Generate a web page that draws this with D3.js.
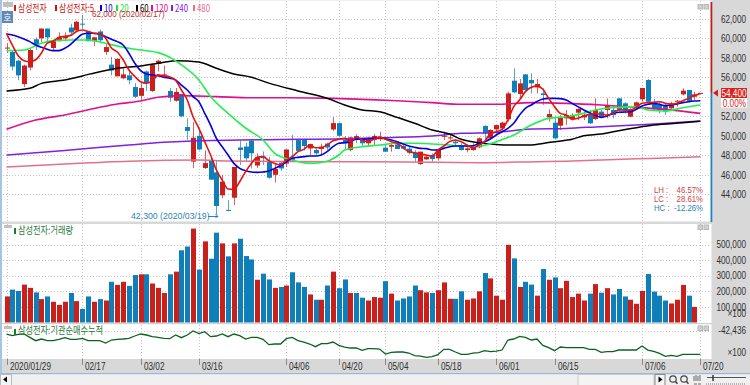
<!DOCTYPE html>
<html><head><meta charset="utf-8">
<script src="https://cdn.jsdelivr.net/npm/d3@7"></script>
<style>html,body{margin:0;padding:0;background:#f0f0f0;overflow:hidden}svg{display:block}text{font-family:"Liberation Sans","Noto Sans CJK KR",sans-serif}</style>
</head><body><svg id="c" width="750" height="385"></svg>
<script>
const opens=[59000,58600,57700,55300,57000,59900,60000,61000,59000,59700,60000,61100,60800,61500,60700,59700,60700,58600,57300,56100,55900,56200,55000,54100,56600,54600,57400,56200,54600,53600,54300,50900,47350,50000,46700,47500,46250,43900,42400,43650,48800,48900,49500,46950,47850,47350,46000,47250,47150,47700,49560,49600,48700,48550,48650,49200,50650,51300,49570,48540,49980,49570,49230,49570,49640,48780,48880,49120,48950,48680,48270,47110,47580,48030,47690,49940,49770,49400,49050,48540,48540,48820,51000,49740,50660,50760,51690,55650,54290,56300,55720,54970,54350,51890,51350,51040,51790,51720,52370,51890,52130,51720,52480,52650,52650,53840,53330,51960,52820,53740,55720,53430,53160,53160,52820,53500,54250,54700,54010,54400];
const closes=[59050,57100,56200,57200,58800,59300,61000,60100,59700,60100,60200,60600,61700,61400,59700,60100,59800,59100,56700,57900,56300,55700,54000,54900,55400,57300,57700,56300,53900,54500,52000,50500,49800,48600,47200,45500,42800,45300,42350,46800,48550,47700,48200,47800,47700,45700,46600,46650,48600,47450,48450,48950,49150,48200,48900,48800,51300,50000,49220,49840,49570,49230,49570,49980,49840,48370,49050,48650,48680,48270,47720,48370,47860,47620,48610,50000,49840,49230,48540,48710,48880,49740,50250,50600,51100,51350,54350,54460,55380,54700,55380,55310,54180,52230,49740,51890,52130,52130,52750,52130,51280,52650,51960,53160,52130,52650,52570,52710,53430,54900,53500,52710,52650,52480,53330,53600,54630,53500,54250,54400];
const highs=[59500,58800,57800,57300,58900,60100,61000,61000,59800,60600,60600,61500,61800,62400,60700,60100,60900,59500,58100,57900,56900,56800,55400,55400,56700,57400,57800,57200,54900,54900,54300,51800,51400,50600,48500,47700,47500,46000,43400,46800,49500,49300,49600,48200,48400,47850,47200,47300,48600,50100,49600,49700,49200,48700,49200,49300,51900,51350,49980,49900,50180,49740,49910,50180,50420,49120,49230,49400,49160,48950,48540,48370,48030,48200,48610,50420,50080,49640,49230,49050,49230,49840,51100,50660,51100,51450,54520,56920,55825,56300,56400,55825,54870,52710,51790,52130,52650,52300,52820,52480,52650,53840,52650,53840,52990,53840,53430,52820,53500,54900,55825,53770,53430,53330,53500,53670,54870,54700,54520,54400];
const lows=[58500,56700,55700,55000,56700,58800,59600,59700,58800,59700,59700,60300,60800,61000,59700,59200,59500,58300,56200,56100,55800,55300,53900,53600,54600,54500,56600,55900,53500,53500,51900,49600,46700,48500,46600,45500,41900,43600,42300,42900,47000,47350,46650,46700,47000,45600,45200,46400,46800,47300,48350,48500,48000,48000,48000,48550,50500,49850,48540,48400,49230,48880,48880,49050,49460,48370,48370,48650,48610,48100,47340,47000,47520,47340,47520,49570,49570,48950,48470,48300,48470,48710,49670,49670,50420,50530,51450,54350,53840,54630,54350,54350,53160,51450,49640,50600,51100,51550,51620,51620,51210,51620,51890,51790,51790,52480,52300,51890,52650,53500,53400,52650,52300,52130,52650,52990,54120,53430,53670,54400];
const volumes=[167,211,202,243,222,193,150,167,133,113,133,189,137,87,167,133,150,141,261,241,261,235,304,309,309,250,222,189,309,326,463,487,602,339,520,409,576,507,424,507,537,426,404,274,313,276,222,228,237,322,257,228,180,146,146,237,326,220,276,189,189,159,141,163,159,265,185,141,154,167,237,207,193,189,207,257,152,152,200,146,154,200,317,283,172,146,498,411,228,261,243,172,343,274,289,220,267,163,185,141,185,246,191,220,180,215,167,146,120,202,311,198,172,141,122,146,241,172,100,0];
const flow=[-43000,-43250,-43050,-43000,-43500,-44000,-43750,-44000,-44000,-43800,-43550,-43800,-43800,-43650,-44000,-44000,-44000,-44350,-43900,-43800,-43750,-43650,-43300,-43000,-43150,-43400,-43500,-43650,-43700,-43150,-43550,-43150,-42550,-42950,-42650,-43400,-43300,-43000,-43400,-43000,-43250,-43750,-43500,-43500,-43800,-44600,-44500,-44500,-43700,-43500,-44000,-44200,-44500,-44900,-44450,-44450,-44200,-44700,-44950,-45100,-45100,-45450,-45200,-45200,-45250,-46000,-45750,-45700,-45700,-45850,-46250,-46300,-46500,-46400,-46100,-45300,-45300,-45700,-46050,-46050,-45850,-45800,-45500,-45650,-45550,-45400,-43900,-43750,-43350,-43500,-43900,-43750,-44700,-45050,-45500,-44950,-45050,-45050,-45050,-45050,-45300,-45300,-45750,-45650,-45650,-45400,-45400,-45400,-45400,-44800,-45400,-45600,-45900,-46350,-46200,-46350,-46050,-46050,-46050,-46050];
const ma5=[60500,59300,58200,57700,57600,57800,58500,59500,59700,60100,60200,60300,60700,60850,60700,60500,60450,60000,59000,58600,57800,56750,56100,55550,55400,55600,56250,56150,56050,55700,54700,53670,51960,50760,49400,48030,46490,45460,44540,44510,45290,46320,47170,47790,47860,47450,47170,47000,47510,47860,48370,48610,49060,48780,48780,49060,49500,49640,49740,49400,49910,49570,49400,49640,49840,49640,49400,49230,48820,48370,48270,48130,48030,47920,48540,48950,49400,49570,49400,49050,48710,49050,49400,50250,50420,50660,51620,52990,53670,54530,54970,55100,54770,53840,52990,52300,52130,51690,51790,52030,52200,52240,52240,52130,52300,52650,52650,52650,52920,53330,53400,53430,53500,53330,53230,53330,53600,53840,54120,54350];
const ma10=[60445,60342,60171,59932,59658,59316,59077,58872,58735,58735,58975,59385,59932,60410,60513,60513,60445,60171,59898,59658,59316,58462,57436,56684,56342,56239,56171,56000,55900,55726,55200,54700,54020,53500,52300,51100,49740,48880,48030,47170,46660,46420,46290,46250,46290,46390,46660,46930,47340,47690,47790,47860,47930,47930,48030,48370,48880,49230,49300,49400,49640,49640,49670,49740,49840,49700,49570,49400,49160,48950,48820,48710,48680,48540,48540,48710,48880,48950,48950,48950,48980,49230,49400,49670,50080,50420,50760,51280,52130,52820,53160,53530,53770,53840,53840,53810,53670,53330,52990,52650,52370,52100,51890,52030,52300,52410,52440,52470,52710,53060,53230,53330,53230,53090,53160,53260,53400,53500,53570,53600];
const ma20At=[0,3,6,8,11,14,17,20,23,26,28,30,33,35,38,41,44,46,49,52,55,57,58,61,64,67,70,73,76,78,81,84,87,90,93,96,99,101,105,108,110,113,116,119];
const ma20=[58735,58800,59490,59760,59830,59830,59490,59080,58800,58530,58050,57265,55730,54020,52300,50800,49570,48200,47510,47170,47400,48030,48540,48880,49050,49230,49230,49160,49050,48950,48950,49400,50080,51100,51790,51960,52300,52650,52920,52990,52650,52540,52880,53160];
const ma60At=[0,4,6,10,13,16,19,23,26,29,33,36,39,42,45,50,55,58,61,64,67,70,73,76,78,81,84,87,90,92,94,97,99,102,105,108,111,116,119];
const ma60=[54600,54870,55380,55730,56140,56580,56920,57160,57440,57710,57570,56920,56340,56000,55400,54600,53850,53160,52650,52470,51890,51280,50600,50180,49640,49300,49120,49050,49050,49220,49400,49640,50010,50180,50520,50830,51100,51340,51480];
const ma120At=[0,5,10,16,19,23,26,30,36,42,48,56,61,67,73,78,84,90,96,102,108,113,119];
const ma120=[50670,51620,52140,52920,53260,53570,53950,54120,54020,53900,53900,53840,53740,53600,53400,53230,53230,53400,53330,53160,52920,52710,52300];
const ma240At=[0,10,21,27,33,40,50,59,64,73,78,84,90,96,102,108,113,119];
const ma240=[48030,48500,49050,49330,49500,49570,49640,49700,49810,49980,50250,50350,50700,50760,50940,51100,51280,51520];
const ma480At=[0,10,21,33,38,59,61,73,81,91,96,102,108,113,119];
const ma480=[46800,47100,47380,47510,47410,47345,47340,47280,47240,47350,47400,47520,47650,47720,47860];
const tickAt=[0,13,23,33,48,57,65,74,84,94,109,119];
const tickLabels=["2020/01/29","02/17","03/02","03/16","04/06","04/20","05/04","05/18","06/01","06/15","07/06","07/20"];
const priceTicks=[44000,46000,48000,50000,52000,54000,56000,58000,60000,62000];
const volumeTicks=[100000,200000,300000,400000,500000];
const legendNames=["삼성전자","삼성전자:5","10","20","60","120","240","480"];
const legendColors=["#c8201c","#d01010","#0000d0","#20e040","#000000","#e0108c","#8020e0","#e87090"];

const RED="#c9201b",BLUE="#0f7fb9",GRID="#c4c4c4",KR='"Noto Sans CJK KR"',SX=0.82;
const svg=d3.select("#c");
const x=d3.scaleLinear().domain([0,119]).range([6.5,700.3]);
const y=d3.scaleLinear().domain([44000,56000]).range([194.3,77.3]);
const yv=d3.scaleLinear().domain([0,100000]).range([322.5,306.9]);
const yf=d3.scaleLinear().domain([-42400,-47000]).range([330,360.7]);
const rect=(a,b,w,h,f,s)=>svg.append("rect").attr("x",a).attr("y",b).attr("width",w).attr("height",h).attr("fill",f).attr("stroke",s||"none");
const label=(t,a,b,f,sz,an,fam,sx)=>svg.append("text").attr("transform",`translate(${a},${b}) scale(${sx||SX},1)`).attr("fill",f).attr("font-size",sz).attr("text-anchor",an||"start").style("font-family",fam||null).text(t);

rect(0,0,750,385,"#f0f0f0");
rect(2,1,710,358,"#ffffff");
rect(711.5,0,38.5,359,"#d8d8d8");
rect(2,359,748,14,"#d8d8d8");
rect(0,373,750,1.2,"#9cb8d8");
rect(0,0,2,373,"#a8c4e0");

// panels & grid
const grid=svg.append("g").attr("stroke",GRID).attr("stroke-dasharray","1,2").attr("stroke-width",1);
priceTicks.forEach(p=>grid.append("line").attr("x1",3).attr("x2",711).attr("y1",Math.round(y(p))+.5).attr("y2",Math.round(y(p))+.5));
volumeTicks.forEach(p=>grid.append("line").attr("x1",3).attr("x2",711).attr("y1",Math.round(yv(p))+.5).attr("y2",Math.round(yv(p))+.5));
grid.append("line").attr("x1",3).attr("x2",711).attr("y1",331.5).attr("y2",331.5);
tickAt.forEach(i=>{const X=Math.round(x(i))+.5;[[1,222],[224,323],[325,359]].forEach(r=>grid.append("line").attr("x1",X).attr("x2",X).attr("y1",r[0]).attr("y2",r[1]));});
rect(2,221.5,710,2.5,"#d8d8d8");
rect(2,323,710,1.2,"#d0d0d0");

// candles
const idx=d3.range(opens.length);
const col=i=>closes[i]<opens[i]?BLUE:RED;
svg.append("g").selectAll("line").data(idx).join("line")
 .attr("x1",i=>Math.round(x(i))+.5).attr("x2",i=>Math.round(x(i))+.5)
 .attr("y1",i=>y(highs[i])).attr("y2",i=>y(lows[i]))
 .attr("stroke",i=>col(i)).attr("stroke-opacity",.7);
svg.append("g").selectAll("rect").data(idx).join("rect")
 .attr("x",i=>Math.round(x(i))-2).attr("width",5)
 .attr("y",i=>y(Math.max(opens[i],closes[i])))
 .attr("height",i=>Math.max(1,Math.abs(y(opens[i])-y(closes[i]))))
 .attr("fill",i=>col(i));

// moving averages
const ln=(xs,ys,c,w)=>{const l=d3.line().x(d=>x(d[0])).y(d=>y(d[1])).curve(d3.curveMonotoneX);
 svg.append("path").attr("d",l(ys.map((v,k)=>[xs?xs[k]:k,v]))).attr("fill","none").attr("stroke",c).attr("stroke-width",w||1.6);};
ln(ma480At,ma480,"#e4708c",1.5);
ln(ma240At,ma240,"#8020e0",1.5);
ln(ma120At,ma120,"#e0108c",1.6);
ln(ma60At,ma60,"#000000",1.5);
ln(ma20At,ma20,"#20f050",1.6);
ln(null,ma10,"#0000e0",1.6);
ln(null,ma5,"#e81010",1.6);

// volume
svg.append("g").selectAll("rect").data(idx).join("rect")
 .attr("x",i=>Math.round(x(i))-2).attr("width",5)
 .attr("y",i=>yv(volumes[i]*1000))
 .attr("height",i=>yv(0)-yv(volumes[i]*1000))
 .attr("fill",i=>col(i));

// flow
svg.append("path").attr("d",d3.line().x((d,i)=>x(i)).y(d=>yf(d))(flow)).attr("fill","none").attr("stroke","#0a6420").attr("stroke-width",1.3);

// right axes
const lastY=y(closes[119]);
rect(710.5,2,1.8,lastY-2,"#c02018");
rect(710.5,lastY,1.8,222-lastY,"#1f86c0");
svg.append("path").attr("d",`M713,${lastY}l5,-3.5v7z`).attr("fill","#d02018");
const axP=svg.append("g").attr("transform","translate(746,0)").call(d3.axisRight(y).tickValues(priceTicks.filter(p=>p!==54000)).tickSize(0).tickPadding(0).tickFormat(d3.format(",")));
axP.select(".domain").remove();
const axV=svg.append("g").attr("transform","translate(746,0)").call(d3.axisRight(yv).tickValues(volumeTicks).tickSize(0).tickPadding(0).tickFormat(d3.format(",")));
axV.select(".domain").remove();
svg.selectAll(".tick text").attr("text-anchor","end").attr("font-size",10).attr("fill","#303030").attr("transform",`scale(${SX},1)`);
label("×100",746,317,"#303030",10,"end");
label("-42,436",746,334,"#303030",10,"end");
label("×100",746,356,"#303030",10,"end");
rect(721,88,26,10,"#d8231c");
label("54,400",746.5,96.8,"#fff",10,"end");
rect(721,98,26,9.5,"#ffffff");
label("0.00%",746,106.5,"#d8231c",10,"end");

// x labels
tickAt.forEach((i,k)=>{const X=Math.round(x(i));
 svg.append("line").attr("x1",X+.5).attr("x2",X+.5).attr("y1",359).attr("y2",365).attr("stroke","#888");
 label(tickLabels[k],X+3,370,"#303030",10,"start");});

// legend
const legendX=[18,59,104,120,140,155,175,197];
legendNames.forEach((n,k)=>{rect(legendX[k]-4,5,2,6,legendColors[k]);label(n,legendX[k],12,legendColors[k],10,"start",KR,.78);});
label("62,000 (2020/02/17)",92,17,"#c0302c",9.5,"start",null,.85);
label("42,300 (2020/03/19)",131,219,"#2a86b8",9.5,"start",null,.92);
svg.append("path").attr("d","M208,216.5h10m-2.5,-2.5l2.5,2.5l-2.5,1").attr("stroke","#1f86c0").attr("fill","none");
rect(3,2,10,5,"#c0c0c0");
rect(2,11,11,12,"#5f88b4");
label("호",7.5,21,"#fff",9,"middle",KR,1);
[["LH :",191,"46.57%","#d0403c"],["LC :",200,"28.61%","#d0403c"],["HC :",209,"-12.26%","#2a86b8"]].forEach(d=>{label(d[0],654,d[1]+2,d[3],9.5,"start");label(d[2],703,d[1]+2,d[3],9.5,"end");});
rect(4,225,8,3,"#c0c0c0");
rect(14,228,2,6,"#1a7a30");
label("삼성전자:거래량",18,234,"#2a7a3a",10,"start",KR,.82);
rect(4,326,8,3,"#c0c0c0");
rect(14,329,2,6,"#1a7a30");
label("삼성전자:기관순매수누적",18,334,"#2a7a3a",10,"start",KR,.82);
[4.5,225,326].forEach(r=>{rect(698,r,4.5,4.5,"#d0d0d0","#b8b8b8");rect(704,r,4.5,4.5,"#d0d0d0","#b8b8b8");});

// scrollbar
rect(0.5,374.5,11,11,"#f4f4f4","#bbb");
svg.append("path").attr("d","M3,379.5l4,-3v6z").attr("fill","#000");
rect(578,374.5,76,11,"#f4f4f4","#c8c8c8");
rect(655,374.5,10,11,"#f4f4f4","#888");
svg.append("path").attr("d","M658.5,376.5l4,3l-4,3z").attr("fill","#000");
[673,684].forEach(c=>{svg.append("circle").attr("cx",c).attr("cy",379).attr("r",3.2).attr("fill","none").attr("stroke","#444").attr("stroke-width",1.2);
 svg.append("line").attr("x1",c+2.3).attr("y1",381.3).attr("x2",c+4.5).attr("y2",383.8).attr("stroke","#444").attr("stroke-width",1.5);});
svg.append("path").attr("d","M694,381v-5m2,5v-6m2,6v-5m2,5v-6M694,384h3m1,0h3").attr("stroke","#666").attr("fill","none");
svg.append("line").attr("x1",707).attr("x2",746).attr("y1",377.5).attr("y2",377.5).attr("stroke","#555");
svg.append("line").attr("x1",713).attr("x2",713).attr("y1",375).attr("y2",381).attr("stroke","#333").attr("stroke-width",1.5);
svg.append("line").attr("x1",706).attr("x2",746).attr("y1",384).attr("y2",384).attr("stroke","#777").attr("stroke-dasharray","1,1");
</script></body></html>
